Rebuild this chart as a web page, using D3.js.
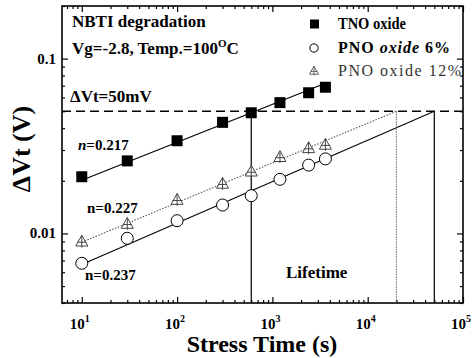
<!DOCTYPE html>
<html>
<head>
<meta charset="utf-8">
<script src="https://cdn.jsdelivr.net/npm/d3@7"></script>
<style>
  html, body { margin: 0; padding: 0; background: #fff; }
  svg { display: block; }
</style>
</head>
<body>
<svg id="chart" width="474" height="358" font-family="'Liberation Serif', 'Times New Roman', serif"></svg>
<script>
// Stress times (s) at which the threshold-voltage shift was measured
const stressTime = [10, 30, 100, 300, 600, 1200, 2400, 3600];

// Measured threshold-voltage shift (V) for each gate oxide
const tnoShift   = [0.0211, 0.0260, 0.0339, 0.0432, 0.0490, 0.0560, 0.0638, 0.0686];
const pno6Shift  = [0.00675, 0.00938, 0.01183, 0.01454, 0.01644, 0.0204, 0.0246, 0.0267];
const pno12Shift = [0.00897, 0.01132, 0.01553, 0.0192, 0.02255, 0.0273, 0.0307, 0.0321];

// Power-law exponents (ΔVt ∝ t^n) and extrapolated lifetimes (s) at the failure criterion
const seriesNames = ["TNO oxide", "PNO oxide 6%", "PNO oxide 12%"];
const exponentOf  = { tno: 0.217, pno12: 0.227, pno6: 0.237 };
const lifetimes   = { tno: 600, pno12: 20000, pno6: 50000 };
const criterion   = 0.05;   // ΔVt = 50 mV

// Axis ticks
const xMajorTicks = [10, 100, 1000, 10000, 100000];
const xTickExponents = ["1", "2", "3", "4", "5"];
const yMajorTicks = [0.01, 0.1];
const yTickLabels = ["0.01", "0.1"];

const FONT = "'Liberation Serif', 'Times New Roman', serif";
const svg = d3.select("#chart");
const plotL = 62, plotR = 463, plotT = 6, plotB = 303;

const x = d3.scaleLog().domain([6.2, 1e5]).range([plotL, plotR]);
const y = d3.scaleLog().domain([0.004, 0.2]).range([plotB, plotT]);

// Minor ticks: 2..9 within each decade, inside the domain
function minorTicks(scale) {
  const [d0, d1] = scale.domain();
  const out = [];
  for (let e = Math.floor(Math.log10(d0)); e <= Math.ceil(Math.log10(d1)); e++) {
    for (let m = 2; m <= 9; m++) {
      const v = m * Math.pow(10, e);
      if (v >= d0 * 0.999 && v <= d1 * 1.001) out.push(v);
    }
  }
  return out;
}

const axisG = svg.append("g").attr("class", "axes");
const majorLen = 6, minorLen = 3;

function drawAxis(axisFn, scale, ticks, len, transform) {
  const g = axisG.append("g")
    .attr("transform", transform)
    .call(axisFn(scale).tickValues(ticks).tickSize(len).tickFormat(""));
  g.select(".domain").remove();
  g.selectAll(".tick line").attr("stroke", "#000").attr("stroke-width", 1.2);
  return g;
}

// Ticks on all four sides, pointing inward
drawAxis(d3.axisBottom, x, xMajorTicks, -majorLen, `translate(0,${plotB})`);
drawAxis(d3.axisBottom, x, minorTicks(x), -minorLen, `translate(0,${plotB})`);
drawAxis(d3.axisTop, x, xMajorTicks, -majorLen, `translate(0,${plotT})`);
drawAxis(d3.axisTop, x, minorTicks(x), -minorLen, `translate(0,${plotT})`);
drawAxis(d3.axisLeft, y, yMajorTicks, -majorLen, `translate(${plotL},0)`);
drawAxis(d3.axisLeft, y, minorTicks(y), -minorLen, `translate(${plotL},0)`);
drawAxis(d3.axisRight, y, yMajorTicks, -majorLen, `translate(${plotR},0)`);
drawAxis(d3.axisRight, y, minorTicks(y), -minorLen, `translate(${plotR},0)`);

// Frame
axisG.append("rect")
  .attr("x", plotL).attr("y", plotT)
  .attr("width", plotR - plotL).attr("height", plotB - plotT)
  .attr("fill", "none").attr("stroke", "#000").attr("stroke-width", 1.6);

// All axis text lives in one group with the serif family set on it
const textG = svg.append("g").attr("font-family", FONT);

// X tick labels: 10 with superscript exponent
const xl = textG.append("g").attr("font-weight", "bold").attr("font-size", 15);
xMajorTicks.forEach((t, i) => {
  const txt = xl.append("text")
    .attr("x", x(t) - 2).attr("y", 329)
    .attr("text-anchor", "middle");
  txt.append("tspan").text("10");
  txt.append("tspan").attr("dy", -7).attr("font-size", 10).text(xTickExponents[i]);
});

// Y tick labels
const yl = textG.append("g").attr("font-weight", "bold").attr("font-size", 15);
yMajorTicks.forEach((t, i) => {
  yl.append("text")
    .attr("x", 56).attr("y", y(t) + 5)
    .attr("text-anchor", "end")
    .text(yTickLabels[i]);
});

// Axis titles
textG.append("text")
  .attr("x", 262).attr("y", 352)
  .attr("text-anchor", "middle")
  .attr("font-weight", "bold").attr("font-size", 24)
  .text("Stress Time (s)");

textG.append("text")
  .attr("transform", `translate(30,149) rotate(-90)`)
  .attr("text-anchor", "middle")
  .attr("font-weight", "bold").attr("font-size", 26)
  .text("ΔVt (V)");

const plot = svg.append("g");

// Failure criterion line at 50 mV
plot.append("line")
  .attr("x1", plotL).attr("x2", plotR)
  .attr("y1", y(criterion)).attr("y2", y(criterion))
  .attr("stroke", "#000").attr("stroke-width", 1.3)
  .attr("stroke-dasharray", "9,5");

// Power-law fit with the stated exponent, anchored at (lifetime, criterion)
function fitFromLifetime(key) {
  const n = exponentOf[key], tl = lifetimes[key];
  return t => criterion * Math.pow(t / tl, n);
}
// Power-law fit with the stated exponent, intercept from the log-mean of the data
function fitFromData(key, ts, vs) {
  const n = exponentOf[key];
  const mx = d3.mean(ts, Math.log10), my = d3.mean(vs, Math.log10);
  return t => Math.pow(10, my + n * (Math.log10(t) - mx));
}
function fitLine(f, t0, t1, style) {
  const pts = [t0, t1].map(t => [x(t), y(f(t))]);
  plot.append("path")
    .attr("d", d3.line()(pts))
    .attr("fill", "none")
    .attr("stroke", style.stroke)
    .attr("stroke-width", style.width)
    .attr("stroke-dasharray", style.dash || null);
}
fitLine(fitFromData("tno", stressTime, tnoShift), 10, 3600, { stroke: "#000", width: 1.2 });
fitLine(fitFromLifetime("pno6"), 10, lifetimes.pno6, { stroke: "#000", width: 1.1 });
fitLine(fitFromLifetime("pno12"), 10, lifetimes.pno12, { stroke: "#555", width: 1.1, dash: "1.5,1.5" });

// Lifetime drop lines
function dropLine(key, style) {
  plot.append("line")
    .attr("x1", x(lifetimes[key])).attr("x2", x(lifetimes[key]))
    .attr("y1", y(criterion)).attr("y2", plotB)
    .attr("stroke", style.stroke).attr("stroke-width", style.width)
    .attr("stroke-dasharray", style.dash || null);
}
dropLine("tno", { stroke: "#000", width: 1.2 });
dropLine("pno12", { stroke: "#666", width: 1, dash: "1.5,1" });
dropLine("pno6", { stroke: "#000", width: 1.2 });

// Markers
const triPath = s => {
  const h = s * 0.9;
  return `M0,${-h * 0.6}L${s / 2},${h * 0.4}L${-s / 2},${h * 0.4}Z` +
         `M0,${-h * 0.6}L0,${h * 0.55}M${-s * 0.38},${h * 0.05}L${s * 0.38},${h * 0.05}`;
};

function squares(g, xs, ys) {
  g.selectAll(null).data(xs.map((t, i) => [t, ys[i]])).join("rect")
    .attr("x", d => x(d[0]) - 5.5).attr("y", d => y(d[1]) - 5.5)
    .attr("width", 11).attr("height", 11)
    .attr("fill", "#000");
}
function circles(g, xs, ys) {
  g.selectAll(null).data(xs.map((t, i) => [t, ys[i]])).join("circle")
    .attr("cx", d => x(d[0])).attr("cy", d => y(d[1])).attr("r", 6)
    .attr("fill", "#fff").attr("stroke", "#000").attr("stroke-width", 1);
}
function triangles(g, xs, ys) {
  g.selectAll(null).data(xs.map((t, i) => [t, ys[i]])).join("path")
    .attr("transform", d => `translate(${x(d[0])},${y(d[1])})`)
    .attr("d", triPath(12))
    .attr("fill", "#fff").attr("stroke", "#444").attr("stroke-width", 1);
}

squares(plot.append("g"), stressTime, tnoShift);
triangles(plot.append("g"), stressTime, pno12Shift);
circles(plot.append("g"), stressTime, pno6Shift);

// Annotations
const ann = svg.append("g").attr("font-family", FONT).attr("font-weight", "bold").attr("fill", "#000");
ann.append("text").attr("x", 72).attr("y", 27).attr("font-size", 17).text("NBTI degradation");
const cond = ann.append("text").attr("x", 72).attr("y", 54).attr("font-size", 17);
cond.append("tspan").text("Vg=-2.8, Temp.=100");
cond.append("tspan").attr("dy", -7).attr("font-size", 11).text("O");
cond.append("tspan").attr("dy", 7).text("C");
ann.append("text").attr("x", 70).attr("y", 102).attr("font-size", 17).text("ΔVt=50mV");

function nLabel(xp, yp, n, italic) {
  const t = ann.append("text").attr("x", xp).attr("y", yp).attr("font-size", 15);
  t.append("tspan").attr("font-style", italic ? "italic" : null).text("n");
  t.append("tspan").text("=" + n.toFixed(3));
}
nLabel(78, 150, exponentOf.tno, true);
nLabel(87, 213, exponentOf.pno12, false);
nLabel(85, 280, exponentOf.pno6, false);

ann.append("text").attr("x", 286).attr("y", 278).attr("font-size", 17).text("Lifetime");

// Legend
const lg = svg.append("g");
const legendY = [24, 48, 71];
lg.append("rect").attr("x", 310).attr("y", legendY[0] - 4.5).attr("width", 9).attr("height", 9).attr("fill", "#000");
lg.append("circle").attr("cx", 314).attr("cy", legendY[1]).attr("r", 4.2)
  .attr("fill", "#fff").attr("stroke", "#000").attr("stroke-width", 1);
lg.append("path").attr("transform", `translate(314,${legendY[2]})`).attr("d", triPath(9))
  .attr("fill", "#fff").attr("stroke", "#555").attr("stroke-width", 0.9);

const lt = lg.append("g").attr("font-family", FONT).attr("font-size", 16);
lt.append("text").attr("x", 338).attr("y", legendY[0] + 5).attr("font-weight", "bold")
  .attr("textLength", 68).attr("lengthAdjust", "spacingAndGlyphs")
  .text(seriesNames[0]);
const l2 = lt.append("text").attr("x", 338).attr("y", legendY[1] + 5).attr("font-weight", "bold")
  .attr("textLength", 112).attr("lengthAdjust", "spacing");
l2.append("tspan").text("PNO ");
l2.append("tspan").attr("font-style", "italic").text("oxide");
l2.append("tspan").text(" 6%");
lt.append("text").attr("x", 338).attr("y", legendY[2] + 5).attr("fill", "#333")
  .attr("textLength", 123).attr("lengthAdjust", "spacing").text(seriesNames[2]);
</script>
</body>
</html>
